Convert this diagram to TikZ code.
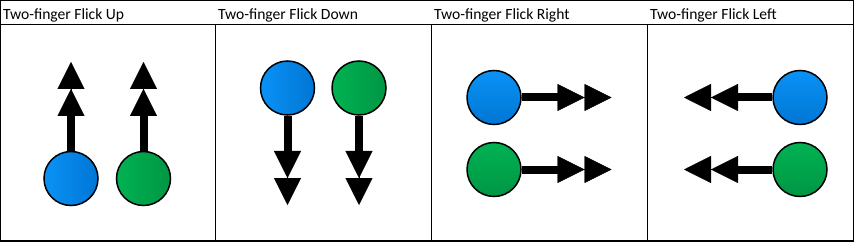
\documentclass[tikz,border=0pt]{standalone}
\usepackage{fontspec}
\setmainfont{Carlito}
\usetikzlibrary{arrows.meta}
\definecolor{fblueA}{RGB}{10,146,246}
\definecolor{fblueB}{RGB}{0,118,212}
\definecolor{fgreenA}{RGB}{0,178,82}
\definecolor{fgreenB}{RGB}{0,150,68}
\begin{document}
\begin{tikzpicture}[x=1pt, y=-1pt,
    finger/.style={circle, draw=black, line width=1.5pt, minimum size=54pt, inner sep=0pt},
    hblue/.style={finger, left color=fblueA, right color=fblueB},
    hgreen/.style={finger, left color=fgreenA, right color=fgreenB},
    vblue/.style={finger, top color=fblueA, bottom color=fblueB},
    vgreen/.style={finger, top color=fgreenA, bottom color=fgreenB},
    flick/.style={line width=8pt},
    flickhead/.style={line width=0.4pt, -{Triangle[length=27pt 0 0,width=27pt 0 0]Triangle[length=27pt 0 0,width=27pt 0 0]}},
    title/.style={anchor=base west, font=\fontsize{15.6}{18}\selectfont, inner sep=0pt},
]
\useasboundingbox (0,0) rectangle (854,243);
% table
\draw[line width=1pt] (0.5,0.5) rectangle (853,241.5);
\draw[line width=2pt] (0,241) -- (853.5,241);
\draw[line width=1pt] (0.5,25) -- (853,25);
\draw[line width=1pt] (215,25) -- (215,241.5);
\draw[line width=1pt] (431,25) -- (431,241.5);
\draw[line width=1pt] (647,25) -- (647,241.5);
\node[title] (tup) at (3,20) {Two-finger Flick Up};
\node[title] (tdown) at (218,20) {Two-finger Flick Down};
\node[title] (tright) at (434,20) {Two-finger Flick Right};
\node[title] (tleft) at (650,20) {Two-finger Flick Left};

% up
\node[hblue] (upa) at (71,178.5) {};
\node[hgreen] (upb) at (143.5,178.5) {};
\coordinate (upabase) at (71,116);
\coordinate (upbbase) at (143.5,116);
\coordinate (upaend) at (71,62);
\coordinate (upbend) at (143.5,62);
\draw[flick] (upa) -- (upabase);
\draw[flickhead] (upabase) -- (upaend);
\draw[flick] (upb) -- (upbbase);
\draw[flickhead] (upbbase) -- (upbend);

% down
\node[hblue] (dna) at (287.5,88) {};
\node[hgreen] (dnb) at (359,88) {};
\coordinate (dnabase) at (287.5,151);
\coordinate (dnbbase) at (359,151);
\coordinate (dnaend) at (287.5,205);
\coordinate (dnbend) at (359,205);
\draw[flick] (dna) -- (dnabase);
\draw[flickhead] (dnabase) -- (dnaend);
\draw[flick] (dnb) -- (dnbbase);
\draw[flickhead] (dnbbase) -- (dnbend);

% right
\node[vblue] (rta) at (494,97.5) {};
\node[vgreen] (rtb) at (494,169.5) {};
\coordinate (rtabase) at (557.5,97.5);
\coordinate (rtbbase) at (557.5,169.5);
\coordinate (rtaend) at (611.5,97.5);
\coordinate (rtbend) at (611.5,169.5);
\draw[flick] (rta) -- (rtabase);
\draw[flickhead] (rtabase) -- (rtaend);
\draw[flick] (rtb) -- (rtbbase);
\draw[flickhead] (rtbbase) -- (rtbend);

% left
\node[vblue] (lfa) at (800,97.5) {};
\node[vgreen] (lfb) at (800,169.5) {};
\coordinate (lfabase) at (738,97.5);
\coordinate (lfbbase) at (738,169.5);
\coordinate (lfaend) at (684,97.5);
\coordinate (lfbend) at (684,169.5);
\draw[flick] (lfa) -- (lfabase);
\draw[flickhead] (lfabase) -- (lfaend);
\draw[flick] (lfb) -- (lfbbase);
\draw[flickhead] (lfbbase) -- (lfbend);
\end{tikzpicture}
\end{document}
